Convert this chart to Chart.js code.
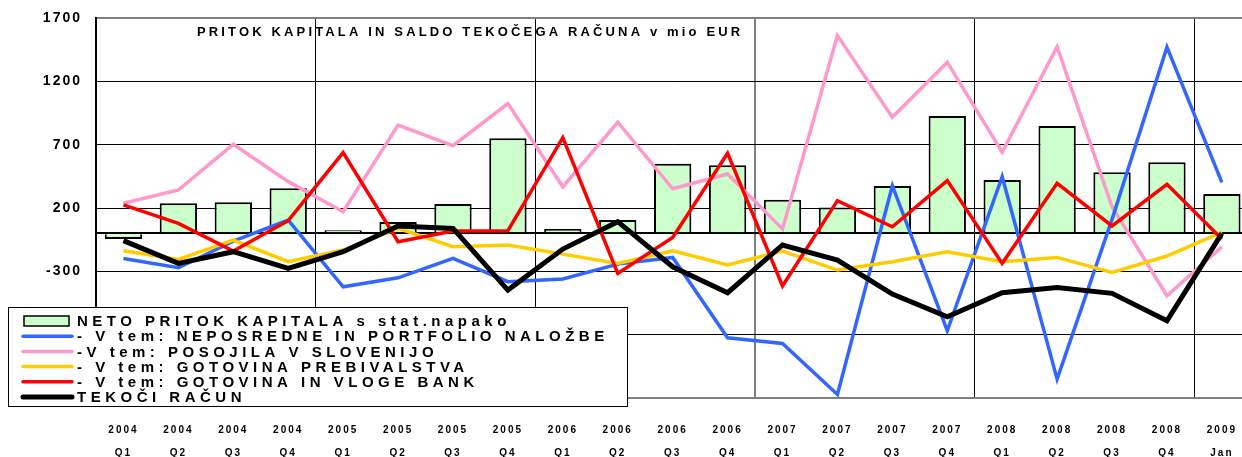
<!DOCTYPE html>
<html>
<head>
<meta charset="utf-8">
<script src="https://cdn.jsdelivr.net/npm/chart.js@4.4.0/dist/chart.umd.min.js"></script>
<style>
  html, body { margin: 0; padding: 0; background: #fff; overflow: hidden; }
  #wrap { width: 1254px; height: 457px; position: relative; }
</style>
</head>
<body>
<div id="wrap"><canvas id="chart"></canvas></div>
<script>
// categories
const years = ['2004','2004','2004','2004','2005','2005','2005','2005','2006','2006','2006','2006',
               '2007','2007','2007','2007','2008','2008','2008','2008','2009'];
const periods = ['Q1','Q2','Q3','Q4','Q1','Q2','Q3','Q4','Q1','Q2','Q3','Q4',
                 'Q1','Q2','Q3','Q4','Q1','Q2','Q3','Q4','Jan'];

// series, mio EUR
const netoPritok   = [-45, 237, 245, 355, 24, 89, 231, 750, 34, 105, 550, 537, 265, 203, 374, 926, 421, 847, 482, 561, 310];
const neposredne   = [-198, -272, -62, 105, -422, -351, -198, -382, -361, -243, -190, -825, -869, -1272, 376, -769, 447, -1151, 110, 1470, 403];
const posojila     = [237, 342, 703, 408, 171, 855, 692, 1024, 368, 877, 352, 468, 34, 1561, 916, 1351, 640, 1474, 210, -493, -106];
const prebivalstva = [-137, -206, -53, -224, -132, 40, -106, -92, -164, -237, -137, -250, -140, -290, -224, -145, -224, -190, -308, -179, 10];
const vlogeBank    = [224, 79, -140, 100, 637, -66, 18, 21, 755, -316, -32, 632, -416, 258, 52, 416, -237, 395, 58, 387, -45];
const tekociRacun  = [-58, -237, -145, -277, -145, 58, 39, -448, -124, 92, -264, -469, -92, -211, -480, -659, -469, -427, -474, -690, 0];

const yTicks = [-1300, -800, -300, 200, 700, 1200, 1700];
const titleText = 'PRITOK KAPITALA IN SALDO TEKOČEGA RAČUNA v mio EUR';

const FONT = "'Liberation Sans', Arial, sans-serif";

// letter spacing for axis labels (Excel-style spaced bold text)
const spacedText = {
    id: 'spacedText',
    beforeDraw(chart) { chart.ctx.letterSpacing = '2px'; }
};

const chartTitle = {
    id: 'chartTitle',
    afterDatasetsDraw(chart) {
        const ctx = chart.ctx;
        const area = chart.chartArea;
        ctx.save();
        ctx.letterSpacing = '3.15px';
        ctx.font = 'bold 13px ' + FONT;
        ctx.fillStyle = '#000';
        ctx.textAlign = 'left';
        ctx.textBaseline = 'middle';
        ctx.fillText(titleText, area.left + 101, area.top + 14);
        ctx.restore();
    }
};

// boxed legend sitting over the lower left of the plot
const boxLegend = {
    id: 'boxLegend',
    afterDraw(chart) {
        const ctx = chart.ctx;
        const x0 = 8, y0 = 307, w = 619, h = 99, row = 15.2;
        ctx.save();
        ctx.fillStyle = '#fff';
        ctx.fillRect(x0, y0, w, h);
        ctx.strokeStyle = '#000';
        ctx.lineWidth = 1;
        ctx.strokeRect(x0 + 0.5, y0 + 0.5, w, h);
        ctx.font = 'bold 15px ' + FONT;
        ctx.letterSpacing = '4.5px';
        ctx.textBaseline = 'middle';
        ctx.textAlign = 'left';
        chart.data.datasets.forEach((ds, i) => {
            const cy = y0 + 14 + i * row;
            if (ds.type === 'bar') {
                ctx.fillStyle = ds.backgroundColor;
                ctx.fillRect(24, cy - 5, 45, 10);
                ctx.lineWidth = 1.5;
                ctx.strokeStyle = '#000';
                ctx.strokeRect(24, cy - 5, 45, 10);
            } else {
                ctx.beginPath();
                ctx.lineCap = 'round';
                ctx.lineWidth = ds.borderWidth;
                ctx.strokeStyle = ds.borderColor;
                ctx.moveTo(23, cy);
                ctx.lineTo(72, cy);
                ctx.stroke();
            }
            ctx.fillStyle = '#000';
            ctx.fillText(ds.label, 77, cy + 1);
        });
        ctx.restore();
    }
};

const lineSet = (label, data, color, width, order) => ({
    type: 'line', label, data, borderColor: color, backgroundColor: color,
    borderWidth: width, pointRadius: 0, tension: 0, order
});

new Chart(document.getElementById('chart'), {
    type: 'bar',
    data: {
        labels: years.map((y, i) => [y, periods[i]]),
        datasets: [
            {
                type: 'bar', label: 'NETO PRITOK KAPITALA s stat.napako', data: netoPritok,
                backgroundColor: '#CCFFCC', borderColor: '#000', borderWidth: 2,
                barPercentage: 0.68, categoryPercentage: 1, order: 10
            },
            lineSet('- V tem: NEPOSREDNE IN PORTFOLIO NALOŽBE', neposredne, '#3366FF', 3.5, 4),
            lineSet('-V tem: POSOJILA V SLOVENIJO', posojila, '#FF99CC', 3.5, 5),
            lineSet('- V tem: GOTOVINA PREBIVALSTVA', prebivalstva, '#FFCC00', 3.5, 3),
            lineSet('- V tem: GOTOVINA IN VLOGE BANK', vlogeBank, '#FF0000', 3.5, 2),
            lineSet('TEKOČI RAČUN', tekociRacun, '#000000', 5, 1)
        ]
    },
    options: {
        responsive: true,
        maintainAspectRatio: false,
        animation: false,
        layout: { padding: { top: 18, left: 0, right: 0, bottom: 0 } },
        plugins: {
            legend: { display: false },
            tooltip: { enabled: false },
            title: { display: false }
        },
        scales: {
            x: {
                offset: true,
                grid: {
                    offset: true,
                    drawTicks: false,
                    color: (c) => (c.index > 0 && c.index < years.length && c.index % 4 === 0)
                        ? (c.index === 12 ? '#808080' : '#000') : 'rgba(0,0,0,0)',
                    lineWidth: (c) => c.index === 12 ? 2 : 1
                },
                border: { display: true, color: '#808080', width: 2 },
                ticks: {
                    color: '#000',
                    font: { family: FONT, size: 10, weight: 'bold', lineHeight: 2.3 },
                    padding: 21,
                    maxRotation: 0,
                    autoSkip: false
                },
                afterFit(scale) { scale.height = 59; }
            },
            y: {
                min: -1300,
                max: 1700,
                afterBuildTicks(scale) {
                    scale.ticks = [...yTicks, 0].sort((a, b) => a - b).map(v => ({ value: v }));
                },
                grid: {
                    drawTicks: false,
                    color: (c) => c.tick && c.tick.value === 1700 ? '#808080' : '#000',
                    lineWidth: (c) => c.tick && (c.tick.value === 1700 || c.tick.value === 0) ? 2 : 1
                },
                border: { display: true, color: '#000', width: 2 },
                ticks: {
                    color: '#000',
                    font: { family: FONT, size: 14, weight: 'bold' },
                    padding: 14,
                    callback: (v) => v === 0 ? '' : String(v)
                },
                afterFit(scale) {
                    scale.width = 96;
                    scale.paddingTop = 0;
                    scale.paddingBottom = 0;
                }
            }
        }
    },
    plugins: [spacedText, chartTitle, boxLegend]
});
</script>
</body>
</html>
